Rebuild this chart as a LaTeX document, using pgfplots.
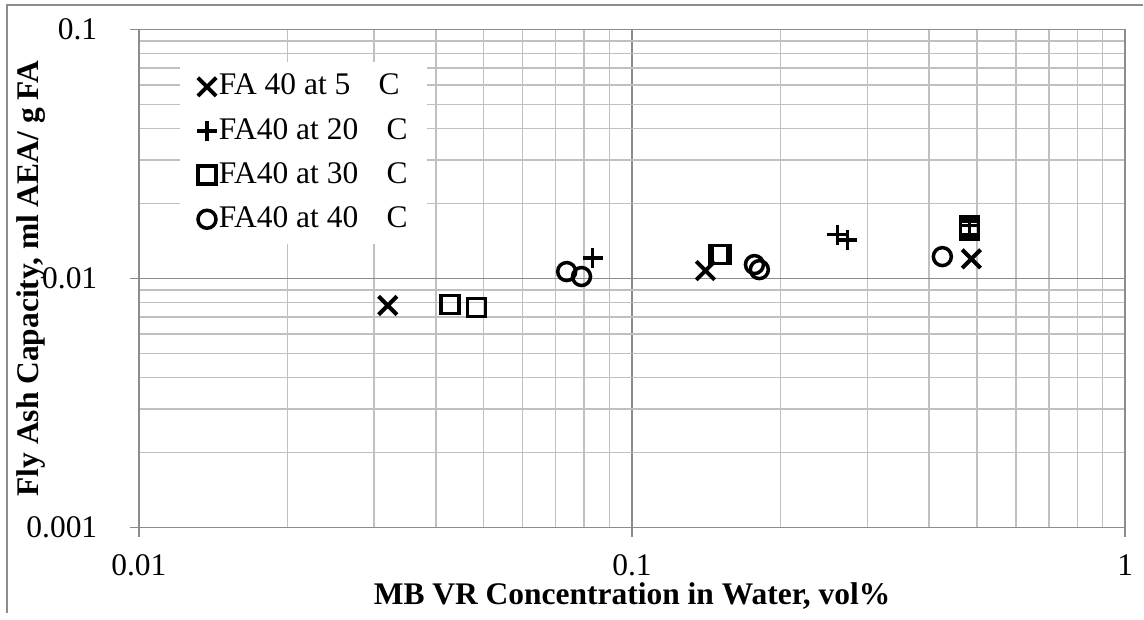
\documentclass[border=0pt]{standalone}
\usepackage{pgfplots}
\pgfplotsset{compat=1.18}
\usepackage{fontspec}
\setmainfont{Liberation Serif}
\definecolor{majgrid}{HTML}{8C8C8C}
\definecolor{mingrid}{HTML}{C0C0C0}
\newcommand{\bigf}{\fontsize{31.5bp}{38bp}\selectfont}
\begin{document}
\bigf
\begin{tikzpicture}[x=1bp,y=1bp]
\begin{axis}[
  at={(0,0)}, anchor=south west,
  scale only axis, width=987bp, height=498.5bp,
  xmode=log, ymode=log,
  xmin=0.01, xmax=1, ymin=0.001, ymax=0.1,
  xtick={0.01,0.1,1}, xticklabels={0.01,0.1,1},
  ytick={0.001,0.01,0.1}, yticklabels={0.001,0.01,0.1},
  minor xtick={0.02,0.03,0.04,0.05,0.06,0.07,0.08,0.09,0.2,0.3,0.4,0.5,0.6,0.7,0.8,0.9},
  minor ytick={0.002,0.003,0.004,0.005,0.006,0.007,0.008,0.009,0.02,0.03,0.04,0.05,0.06,0.07,0.08,0.09},
  grid=both,
  major grid style={majgrid, line width=1.6bp},
  minor grid style={mingrid, line width=1.6bp},
  axis line style={majgrid, line width=1.6bp},
  tick align=outside, major tick length=9bp, minor tick length=0bp,
  tick style={majgrid, line width=1.6bp},
  xtick pos=bottom, ytick pos=left,
  xticklabel style={font=\bigf, anchor=base, yshift=-39bp},
  yticklabel style={font=\bigf, anchor=east, xshift=-22bp},
  xlabel={MB VR Concentration in Water, vol\%},
  ylabel={Fly Ash Capacity, ml AEA/ g FA},
  xlabel style={font=\bigf\bfseries, at={(axis description cs:0.5,0)}, anchor=base, yshift=-77bp},
  ylabel style={font=\bigf\bfseries, at={(axis description cs:-0.1095,0.5)}, anchor=center, rotate=0},
  legend style={at={(rel axis cs:0.0415,0.935)}, anchor=north west, draw=none, fill=white,
    font=\bigf, row sep=14.5bp, inner xsep=17bp, inner ysep=10bp,
    /tikz/every even column/.append style={column sep=2bp}},
  legend cell align=left,
  legend image code/.code={\draw[#1] plot[only marks] coordinates {(0bp,0bp)};},
  clip=false,
]
\addplot[only marks, black, mark=x, mark size=13bp, line width=4bp] coordinates {
  (0.03196,0.00780) (0.1409,0.01076) (0.4875,0.01200)
};
\addlegendentry{FA 40 at 5\hspace{0.9em}C}
\addplot[only marks, black, mark=+, mark size=10bp, line width=3.5bp] coordinates {
  (0.0832,0.0121) (0.2609,0.0150) (0.2733,0.0143) (0.483,0.0163)
};
\addlegendentry{FA40 at 20\hspace{0.9em}C}
\addplot[only marks, black, mark=square, mark size=9bp, line width=3.5bp] coordinates {
  (0.0427,0.00787) (0.0484,0.00766) (0.1497,0.01247) (0.1518,0.01247) (0.483,0.01625) (0.483,0.01565)
};
\addlegendentry{FA40 at 30\hspace{0.9em}C}
\addplot[only marks, black, mark=o, mark size=9bp, line width=3.5bp] coordinates {
  (0.0737,0.01067) (0.0790,0.01019) (0.1771,0.01138) (0.1812,0.01086) (0.4258,0.01225)
};
\addlegendentry{FA40 at 40\hspace{0.9em}C}
\end{axis}
\draw[majgrid, line width=1.6bp] (-132,-85) -- (-132,523) -- (1005,523);
\path[use as bounding box] (-139,-85) rectangle (1005,528);
\end{tikzpicture}
\end{document}
